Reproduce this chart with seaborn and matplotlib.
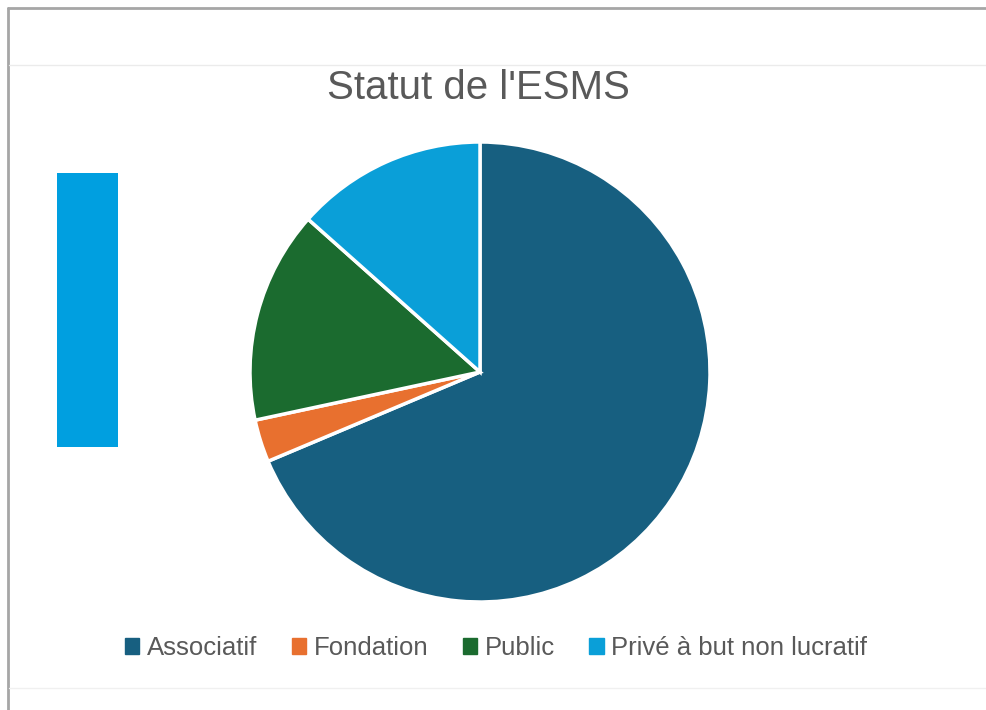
import matplotlib.pyplot as plt
import matplotlib.patches as mpatches
import seaborn as sns

sns.set_theme(style="white")
plt.rcParams['font.family'] = ['Liberation Sans', 'DejaVu Sans']

# data
categories = ['Associatif', 'Fondation', 'Public', 'Privé à but non lucratif']
counts = [46, 2, 10, 9]
colors = ['#175f80', '#e8702f', '#1b6b2f', '#0a9fd8']

W, H = 986, 710
fig = plt.figure(figsize=(W / 100, H / 100), dpi=100)
fig.patch.set_facecolor('white')

# outer frame and separator lines
fig.add_artist(plt.Line2D([8 / W, 8 / W], [0, 1 - 8 / H], color='#a6a6a6', lw=2))
fig.add_artist(plt.Line2D([8 / W, 1], [1 - 8 / H, 1 - 8 / H], color='#a6a6a6', lw=2))
fig.add_artist(plt.Line2D([9 / W, 1], [1 - 65 / H, 1 - 65 / H], color='#ebebeb', lw=1))
fig.add_artist(plt.Line2D([9 / W, 1], [1 - 688 / H, 1 - 688 / H], color='#f0f0f0', lw=1))

# blue block on the left
fig.add_artist(mpatches.Rectangle((57 / W, 1 - 447 / H), 61 / W, 274 / H,
                                  facecolor='#009fe0', edgecolor='none'))

# pie
cx, cy, r = 480, 372, 230
ax = fig.add_axes([(cx - r) / W, (H - cy - r) / H, 2 * r / W, 2 * r / H])
ax.pie(counts, colors=colors, startangle=90, counterclock=False,
       wedgeprops=dict(edgecolor='white', linewidth=2.5))
ax.set_xlim(-1.0, 1.0)
ax.set_ylim(-1.0, 1.0)
ax.set_aspect('equal')
ax.axis('off')

fig.text(478 / W, 1 - 88 / H, "Statut de l'ESMS", ha='center', va='center',
         fontsize=29, color='#595959')

handles = [mpatches.Patch(color=c, label=l) for c, l in zip(colors, categories)]
fig.legend(handles=handles, loc='center', bbox_to_anchor=(496 / W, 1 - 648 / H),
           ncol=4, frameon=False, fontsize=18.5, handlelength=0.55, handleheight=0.55,
           handletextpad=0.3, columnspacing=1.35, labelcolor='#595959')

fig.savefig('out.png', dpi=100)
